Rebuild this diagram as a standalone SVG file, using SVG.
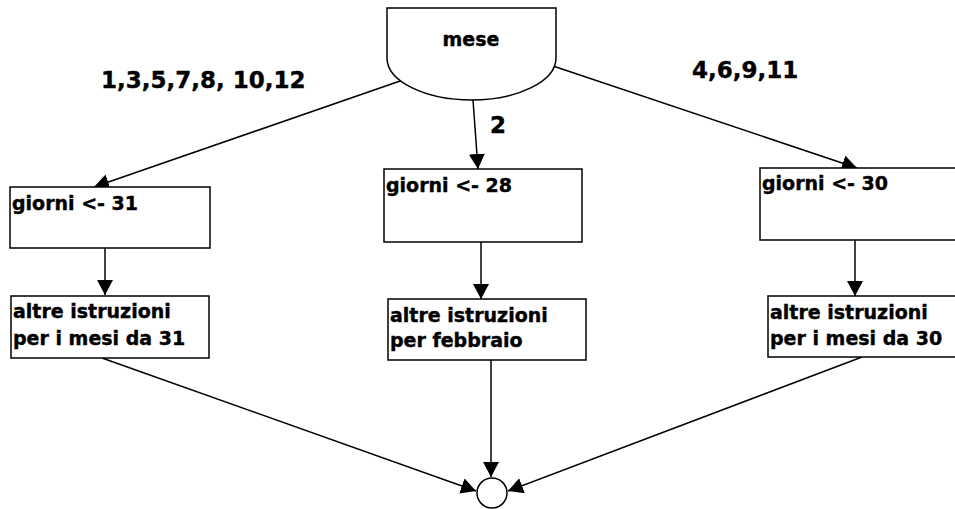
<svg xmlns="http://www.w3.org/2000/svg" width="955" height="509" viewBox="0 0 955 509">
<style>
.shape{fill:#fff;stroke:#000;stroke-width:1.5}
.t{font-family:"DejaVu Sans",Verdana,sans-serif;font-weight:bold;font-size:19px;fill:#000;stroke:#000;stroke-width:0.4}
.lbl{font-family:"DejaVu Sans",Verdana,sans-serif;font-weight:bold;font-size:23px;fill:#000;stroke:#000;stroke-width:0.4}
.c{fill:none;stroke:#000;stroke-width:1.5}
</style>
<defs>
<marker id="ah" viewBox="0 0 15 16" refX="15" refY="8" markerWidth="15" markerHeight="16" markerUnits="userSpaceOnUse" orient="auto">
<path d="M0,0 L15,8 L0,16 Z" fill="#000"/>
</marker>
</defs>
<rect width="955" height="509" fill="#fff"/>
<g id="connectors">
<line class="c" x1="403" y1="80" x2="94" y2="187" marker-end="url(#ah)"/>
<line class="c" x1="473" y1="100" x2="478" y2="169" marker-end="url(#ah)"/>
<line class="c" x1="553" y1="66" x2="857" y2="168" marker-end="url(#ah)"/>
<line class="c" x1="105" y1="248" x2="105" y2="295" marker-end="url(#ah)"/>
<line class="c" x1="481" y1="242" x2="481" y2="299" marker-end="url(#ah)"/>
<line class="c" x1="855" y1="240" x2="855" y2="296" marker-end="url(#ah)"/>
<line class="c" x1="102" y1="358" x2="476" y2="491" marker-end="url(#ah)"/>
<line class="c" x1="491" y1="360" x2="491" y2="477" marker-end="url(#ah)"/>
<line class="c" x1="862" y1="357" x2="508" y2="491" marker-end="url(#ah)"/>
</g>
<g id="labels">
<text class="lbl" x="101" y="88">1,3,5,7,8, 10,12</text>
<text class="lbl" x="490" y="133">2</text>
<text class="lbl" x="692" y="78">4,6,9,11</text>
</g>
<g id="mese">
<path class="shape" d="M387,8 H556 V58 A84.5,42 0 0 1 387,58 Z"/>
<text class="t" x="471" y="46" text-anchor="middle">mese</text>
</g>
<g id="giorni31">
<rect class="shape" x="10" y="187" width="200" height="61"/>
<text class="t" x="12" y="210">giorni &lt;- 31</text>
</g>
<g id="altre31">
<rect class="shape" x="11" y="296" width="198" height="62"/>
<text class="t" x="13" y="318">altre istruzioni</text>
<text class="t" x="13" y="345">per i mesi da 31</text>
</g>
<g id="giorni28">
<rect class="shape" x="384" y="169" width="198" height="73"/>
<text class="t" x="386" y="192">giorni &lt;- 28</text>
</g>
<g id="altrefeb">
<rect class="shape" x="388" y="299" width="198" height="61"/>
<text class="t" x="390" y="322">altre istruzioni</text>
<text class="t" x="390" y="347">per febbraio</text>
</g>
<g id="giorni30">
<rect class="shape" x="760" y="168" width="210" height="72"/>
<text class="t" x="762" y="190">giorni &lt;- 30</text>
</g>
<g id="altre30">
<rect class="shape" x="768" y="296" width="210" height="61"/>
<text class="t" x="770" y="319">altre istruzioni</text>
<text class="t" x="770" y="345">per i mesi da 30</text>
</g>
<g id="end">
<circle class="shape" cx="492" cy="493" r="15"/>
</g>
</svg>
